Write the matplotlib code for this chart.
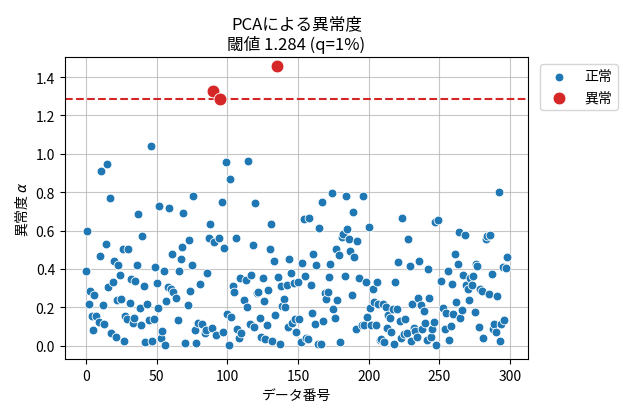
import numpy as np
import matplotlib
matplotlib.use("Agg")
import matplotlib.pyplot as plt

plt.rcParams['font.family'] = ['Noto Sans CJK JP', 'DejaVu Sans']

threshold = 1.284

# データ番号と異常度
idx = [0, 1, 2, 3, 4, 5, 6, 7, 9, 10, 11, 12, 13, 14, 15, 16, 17, 18, 19, 20,
       21, 22, 23, 24, 25, 26, 27, 28, 29, 30, 31, 32, 33, 34, 35, 36, 37, 38, 39, 40,
       41, 42, 43, 45, 46, 47, 48, 49, 50, 51, 52, 53, 54, 55, 56, 57, 58, 59, 60, 61,
       62, 64, 65, 66, 67, 68, 69, 70, 72, 73, 74, 75, 76, 77, 78, 79, 81, 82, 84, 85,
       86, 87, 88, 89, 90, 91, 92, 94, 95, 96, 97, 98, 99, 100, 101, 102, 103, 104, 105, 106,
       107, 108, 109, 110, 112, 113, 114, 115, 116, 117, 118, 119, 120, 121, 122, 123, 124, 125, 126, 127,
       128, 129, 130, 131, 132, 133, 134, 135, 136, 137, 138, 139, 140, 141, 142, 143, 144, 145, 146, 147,
       148, 149, 150, 151, 152, 153, 154, 155, 156, 157, 158, 159, 160, 161, 162, 163, 164, 165, 166, 167,
       168, 169, 170, 171, 172, 173, 174, 175, 176, 177, 178, 179, 180, 181, 182, 183, 184, 185, 186, 187,
       188, 189, 190, 191, 192, 193, 195, 196, 197, 198, 199, 200, 201, 202, 203, 204, 205, 206, 207, 208,
       209, 210, 211, 212, 213, 214, 215, 216, 217, 218, 219, 220, 221, 222, 223, 224, 225, 226, 227, 228,
       229, 230, 231, 232, 233, 234, 235, 236, 237, 238, 239, 240, 241, 242, 243, 244, 245, 246, 247, 248,
       249, 251, 253, 254, 255, 256, 257, 258, 259, 260, 261, 262, 263, 264, 265, 266, 267, 268, 269, 270,
       271, 272, 273, 274, 275, 276, 277, 278, 279, 280, 281, 283, 284, 285, 286, 287, 288, 289, 290, 291,
       292, 293, 294, 295, 296, 297, 298]

alpha = [0.39, 0.60, 0.22, 0.284, 0.156, 0.08, 0.265, 0.156, 0.123, 0.47, 0.91, 0.213, 0.113, 0.53, 0.946, 0.307, 0.77, 0.066, 0.334, 0.44,
         0.047, 0.24, 0.42, 0.37, 0.246, 0.504, 0.026, 0.156, 0.14, 0.504, 0.224, 0.35, 0.12, 0.143, 0.34, 0.42, 0.686, 0.198, 0.11, 0.57,
         0.31, 0.02, 0.22, 0.135, 1.04, 0.024, 0.14, 0.41, 0.326, 0.198, 0.727, 0.04, 0.076, 0.39, 0.002, 0.234, 0.308, 0.72, 0.296, 0.478,
         0.28, 0.25, 0.133, 0.39, 0.452, 0.516, 0.693, 0.014, 0.21, 0.55, 0.284, 0.42, 0.778, 0.083, 0.016, 0.12, 0.32, 0.114, 0.068, 0.081,
         0.377, 0.56, 0.636, 0.092, 1.326, 0.54, 0.057, 0.56, 1.284, 0.749, 0.074, 0.508, 0.96, 0.168, 0.005, 0.867, 0.15, 0.312, 0.28, 0.564,
         0.088, 0.04, 0.354, 0.064, 0.237, 0.345, 0.2, 0.962, 0.113, 0.368, 0.523, 0.099, 0.744, 0.273, 0.282, 0.146, 0.047, 0.354, 0.234, 0.036,
         0.106, 0.293, 0.504, 0.634, 0.024, 0.442, 0.161, 1.456, 0.359, 0.007, 0.31, 0.205, 0.243, 0.2, 0.314, 0.097, 0.452, 0.378, 0.118, 0.326,
         0.14, 0.071, 0.334, 0.14, 0.022, 0.433, 0.662, 0.366, 0.042, 0.035, 0.666, 0.314, 0.172, 0.478, 0.111, 0.423, 0.007, 0.612, 0.007, 0.749,
         0.13, 0.274, 0.243, 0.279, 0.359, 0.425, 0.794, 0.189, 0.143, 0.504, 0.241, 0.472, 0.022, 0.565, 0.584, 0.366, 0.778, 0.608, 0.558, 0.496,
         0.265, 0.697, 0.463, 0.086, 0.548, 0.354, 0.11, 0.78, 0.11, 0.333, 0.148, 0.619, 0.198, 0.109, 0.298, 0.23, 0.109, 0.334, 0.22, 0.028,
         0.036, 0.218, 0.017, 0.204, 0.092, 0.158, 0.147, 0.071, 0.19, 0.009, 0.334, 0.19, 0.435, 0.127, 0.038, 0.664, 0.063, 0.14, 0.069, 0.555,
         0.414, 0.024, 0.216, 0.094, 0.075, 0.043, 0.251, 0.44, 0.21, 0.087, 0.179, 0.118, 0.03, 0.4, 0.25, 0.045, 0.085, 0.126, 0.643, 0.004,
         0.657, 0.338, 0.198, 0.088, 0.173, 0.388, 0.03, 0.102, 0.324, 0.168, 0.48, 0.23, 0.425, 0.593, 0.147, 0.185, 0.371, 0.579, 0.319, 0.295,
         0.237, 0.352, 0.317, 0.366, 0.177, 0.428, 0.418, 0.097, 0.295, 0.286, 0.04, 0.556, 0.572, 0.269, 0.576, 0.374, 0.088, 0.113, 0.073, 0.258,
         0.803, 0.026, 0.113, 0.409, 0.134, 0.407, 0.461]

idx = np.array(idx)
alpha = np.array(alpha)
anom = alpha >= threshold

fig = plt.figure(figsize=(6.23, 4.14), dpi=100)
ax = fig.add_axes([0.104, 0.130, 0.744, 0.730])

ax.scatter(idx[~anom], alpha[~anom], s=40, color='#1f77b4', edgecolor='white', linewidth=0.6, label='正常', zorder=3)
ax.scatter(idx[anom], alpha[anom], s=85, color='#d62728', edgecolor='white', linewidth=0.6, label='異常', zorder=3)
ax.axhline(threshold, color='#d62728', linestyle='--', linewidth=1.5, zorder=2)

ax.set_xlim(-14.9, 313.0)
ax.set_ylim(-0.07, 1.505)
ax.set_xticks(range(0, 301, 50))
ax.set_yticks(np.arange(0, 1.41, 0.2))
ax.yaxis.set_major_formatter(matplotlib.ticker.FormatStrFormatter('%.1f'))
ax.grid(True, color='#b0b0b0', linewidth=0.8, alpha=0.7)
ax.set_axisbelow(True)

ax.set_title('PCAによる異常度\n閾値 1.284 (q=1%)')
ax.set_xlabel('データ番号')
ax.set_ylabel('異常度 $\\alpha$')
ax.legend(loc='upper left', bbox_to_anchor=(1.01, 1.0))

fig.savefig('out.png', dpi=100)
